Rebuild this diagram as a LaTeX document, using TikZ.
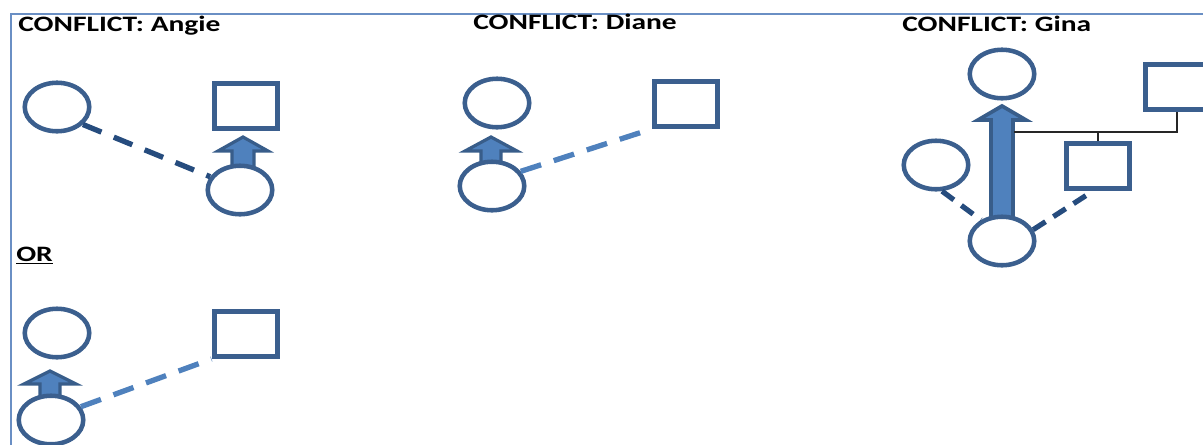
\documentclass[tikz,border=0pt]{standalone}
\usepackage{fontspec}
\setmainfont{Carlito}
\usetikzlibrary{shapes.geometric,calc}
\definecolor{cblue}{HTML}{3B5F8E}
\definecolor{dashdark}{HTML}{264C7E}
\definecolor{dashlight}{HTML}{4F81BD}
\definecolor{arrfill}{HTML}{4F81BD}
\definecolor{arrline}{HTML}{385D8A}
\definecolor{frameblue}{HTML}{6A8FC4}
\newcommand\blkarrow[7]{\draw[arrowsty, line width=#7] (#1,#2) -- ({#1+#4},#3) -- ({#1+#5},#3) -- ({#1+#5},#6) -- ({#1-#5},#6) -- ({#1-#5},#3) -- ({#1-#4},#3) -- cycle;}
\tikzset{
  circ/.style={ellipse, draw=cblue, fill=white, line width=3.4pt, inner sep=0pt, minimum width=48.4pt, minimum height=36.4pt},
  sqr/.style={rectangle, draw=cblue, fill=white, line width=4pt, inner sep=0pt, minimum width=47.7pt, minimum height=33.5pt},
  arrowsty/.style={draw=arrline, fill=arrfill, line join=miter},
  title/.style={font=\bfseries\fontsize{16.5}{18}\selectfont, inner sep=0pt, anchor=base west},
  dashd/.style={draw=dashdark, line width=4pt, dash pattern=on 15pt off 10pt},
  dashl/.style={draw=dashlight, line width=4pt, dash pattern=on 16pt off 10pt},
  dashg/.style={draw=dashdark, line width=3.9pt, dash pattern=on 11pt off 7pt},
  thin/.style={draw=black!85, line width=1.1pt}
}
\begin{document}
\begin{tikzpicture}[x=0.75pt, y=-0.75pt]
\useasboundingbox (0,0) rectangle (1203,444);
\clip (0,0) rectangle (1203,444);
\draw[frameblue, line width=1.5pt] (11,14) rectangle (1230,470);
% titles
\node[title] (tA) at (18,31) {\scalebox{1.34}[1]{CONFLICT: Angie}};
\node[title] (tD) at (473,29) {\scalebox{1.34}[1]{CONFLICT: Diane}};
\node[title] (tG) at (902,31) {\scalebox{1.34}[1]{CONFLICT: Gina}};
\node[title] (tO) at (16,261) {\scalebox{1.34}[1]{\underline{OR}}};
% block arrows
\blkarrow{243}{137}{151}{25}{11}{172}{2.4pt}
\blkarrow{491}{137}{151}{26}{10}{165}{2.4pt}
\blkarrow{50}{371}{384}{26}{10}{400}{2.4pt}
\blkarrow{1002}{106}{120}{24}{11}{226}{2.8pt}
% Angie
\node[circ] (a1) at (57,107) {};
\node[sqr] (asq) at (246,106) {};
\node[circ] (a2) at (240,190) {};
\draw[dashd] (a1.-34) -- (a2.156);
% Diane
\node[circ] (d1) at (497,103) {};
\node[sqr] (dsq) at (686,104) {};
\node[circ] (d2) at (492,186) {};
\draw[dashl] (d2.27) -- (dsq.south west);
% OR
\node[circ] (o1) at (57,333) {};
\node[sqr] (osq) at (246,334) {};
\node[circ] (o2) at (51,420) {};
\draw[dashl] (o2.24) -- (osq.south west);
% Gina
\node[circ] (g1) at (1002,74) {};
\node[sqr] (gtop) at (1177,87) {};
\node[circ] (gl) at (936,165) {};
\node[sqr] (gsq) at (1098,166) {};
\node[circ] (gb) at (1002,241) {};
\coordinate (gj) at (1014,132);
\draw[thin] (gj) -| (gtop.south);
\draw[thin] (gsq.north) -- (gsq.north |- gj);
\draw[dashg] (gl.-77) -- (gb.135);
\draw[dashg] (gb.20) -- ($(gsq.south)+(-5,0)$);
\end{tikzpicture}
\end{document}
